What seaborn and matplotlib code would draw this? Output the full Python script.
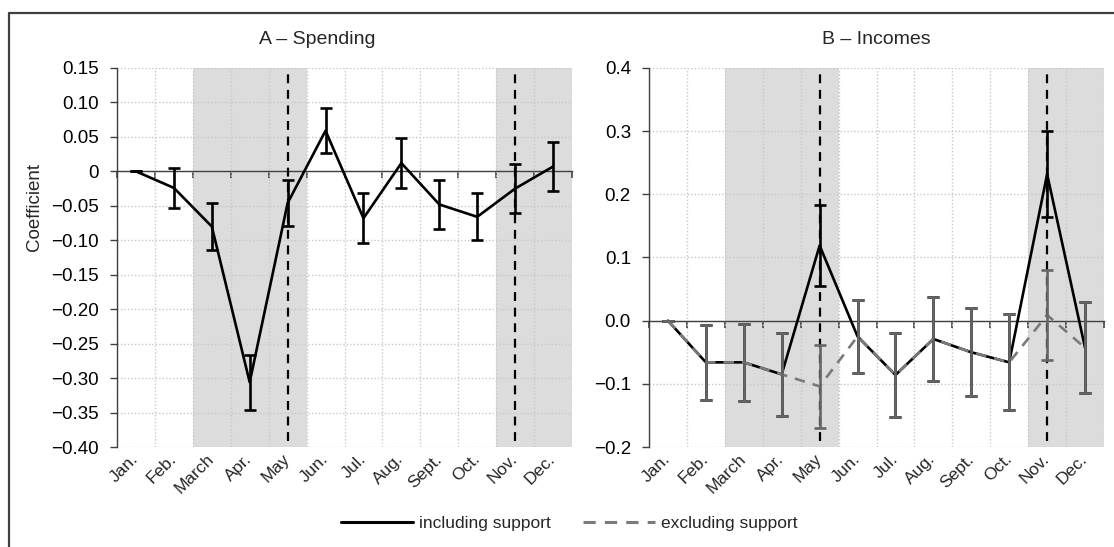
import numpy as np
import pandas as pd
import matplotlib
matplotlib.use("Agg")
import matplotlib.pyplot as plt
from matplotlib.lines import Line2D
from matplotlib.ticker import FixedLocator, FuncFormatter
import seaborn as sns

# ---- data -------------------------------------------------------------
months = ["Jan.", "Feb.", "March", "Apr.", "May", "Jun.",
          "Jul.", "Aug.", "Sept.", "Oct.", "Nov.", "Dec."]

spend_incl = [0.0, -0.024, -0.080, -0.306, -0.046, 0.059,
              -0.068, 0.012, -0.048, -0.066, -0.025, 0.007]
spend_incl_err = [0.0, 0.029, 0.034, 0.040, 0.033, 0.033,
                  0.036, 0.036, 0.035, 0.034, 0.036, 0.036]

income_incl = [0.0, -0.066, -0.066, -0.085, 0.119, -0.025,
               -0.086, -0.029, -0.050, -0.066, 0.232, -0.043]
income_incl_err = [0.0, 0.059, 0.061, 0.066, 0.064, 0.058,
                   0.066, 0.067, 0.070, 0.076, 0.068, 0.072]
income_excl = [0.0, -0.066, -0.066, -0.085, -0.104, -0.025,
               -0.086, -0.029, -0.050, -0.066, 0.009, -0.043]
income_excl_err = [0.0, 0.059, 0.061, 0.066, 0.066, 0.058,
                   0.066, 0.067, 0.070, 0.076, 0.071, 0.072]

shaded_months = [("March", "May"), ("Nov.", "Dec.")]
marked_months = ["May", "Nov."]

spend_ticks = [0.15, 0.10, 0.05, 0.0, -0.05, -0.10, -0.15, -0.20,
               -0.25, -0.30, -0.35, -0.40]
income_ticks = [0.4, 0.3, 0.2, 0.1, 0.0, -0.1, -0.2]

# ---- style ------------------------------------------------------------
sns.set_theme(style="white")
plt.rcParams["font.family"] = ["Liberation Sans", "DejaVu Sans"]
plt.rcParams["axes.unicode_minus"] = True

BLACK = "#000000"
GREY_LINE = "#7a7a7a"
GREY_BAR = "#666666"
SHADE = "#dcdcdc"
GRID = "#c8c8c8"
AXIS = "#404040"

FS_TICK = 13.5
FS_MONTH = 12.5
FS_TITLE = 14
FS_LEGEND = 12.5

W, H = 1114, 547
fig = plt.figure(figsize=(W / 100, H / 100), dpi=100)


def px_rect(x0, y0, x1, y1):
    return [x0 / W, 1 - y1 / H, (x1 - x0) / W, (y1 - y0) / H]


ax_a = fig.add_axes(px_rect(117, 68, 572, 447))
ax_b = fig.add_axes(px_rect(649, 68, 1104, 447))

xpos = np.arange(len(months)) + 0.5
idx = {m: i for i, m in enumerate(months)}


def fmt_spend(v, _):
    if abs(v) < 1e-9:
        return "0"
    return f"{v:.2f}".replace("-", "\u2212")


def fmt_income(v, _):
    if abs(v) < 1e-9:
        return "0.0"
    return f"{v:.1f}".replace("-", "\u2212")


def frame(ax, ticks, formatter, title, title_x=0.5):
    ymin, ymax = min(ticks), max(ticks)
    ax.set_xlim(0, len(months))
    ax.set_ylim(ymin, ymax)
    ax.set_facecolor("white")
    # shaded periods
    for a, b in shaded_months:
        ax.axvspan(idx[a], idx[b] + 1, color=SHADE, lw=0, zorder=0)
    # dotted grid
    for x in range(len(months) + 1):
        ax.axvline(x, color=GRID, lw=1.0, ls=(0, (1, 1.5)), zorder=1)
    for y in ticks:
        ax.axhline(y, color=GRID, lw=1.0, ls=(0, (1, 1.5)), zorder=1)
    # dashed markers
    for m in marked_months:
        ax.axvline(idx[m] + 0.5, ymin=0.015, ymax=0.99, color=BLACK,
                   lw=1.6, ls=(0, (4, 3)), zorder=3)
    # spines
    for s in ["top", "right"]:
        ax.spines[s].set_visible(False)
    ax.spines["left"].set_color(AXIS)
    ax.spines["left"].set_linewidth(1.0)
    ax.spines["bottom"].set_position(("data", 0))
    ax.spines["bottom"].set_color(AXIS)
    ax.spines["bottom"].set_linewidth(1.0)
    ax.spines["bottom"].set_zorder(2)
    ax.yaxis.set_major_locator(FixedLocator(ticks))
    ax.yaxis.set_major_formatter(FuncFormatter(formatter))
    ax.tick_params(axis="y", which="major", left=True, length=5, width=1,
                   color=AXIS, labelsize=FS_TICK, pad=8, labelcolor="black")
    ax.set_xticks(range(len(months) + 1))
    ax.tick_params(axis="x", which="major", bottom=True, length=5, width=1.2,
                   color=AXIS, labelbottom=False)
    ax.grid(False)
    # month labels on the lower edge
    sec = ax.secondary_xaxis(0)
    sec.set_xticks(xpos)
    sec.set_xticklabels(months, rotation=45, ha="right", va="center",
                        rotation_mode="anchor", fontsize=FS_MONTH)
    sec.tick_params(length=0, pad=7)
    sec.spines["bottom"].set_visible(False)
    ax.set_title(title, fontsize=FS_TITLE, pad=17, x=title_x)
    ax.set_xlabel("")


# ---- panel A ----------------------------------------------------------
frame(ax_a, spend_ticks, fmt_spend, "A \u2013 Spending", title_x=0.44)
df_a = pd.DataFrame({"x": xpos, "coef": spend_incl})
sns.lineplot(data=df_a, x="x", y="coef", ax=ax_a, color=BLACK, lw=1.9,
             zorder=5, legend=False)
ax_a.errorbar(xpos, spend_incl, yerr=spend_incl_err, fmt="none",
              ecolor=BLACK, elinewidth=1.9, capsize=4.5, capthick=1.9, zorder=6)
ax_a.set_ylabel("Coefficient", fontsize=FS_TICK)
ax_a.yaxis.set_label_coords(-0.162, 0.633)
ax_a.set_xlabel("")

# ---- panel B ----------------------------------------------------------
frame(ax_b, income_ticks, fmt_income, "B \u2013 Incomes")
df_b = pd.DataFrame({"x": np.concatenate([xpos, xpos]),
                     "coef": income_incl + income_excl,
                     "series": ["including support"] * 12 + ["excluding support"] * 12})
sns.lineplot(data=df_b[df_b.series == "including support"], x="x", y="coef",
             ax=ax_b, color=BLACK, lw=1.9, zorder=5, legend=False)
ax_b.errorbar(xpos, income_incl, yerr=income_incl_err, fmt="none",
              ecolor=BLACK, elinewidth=1.9, capsize=4.5, capthick=1.9, zorder=6)
sns.lineplot(data=df_b[df_b.series == "excluding support"], x="x", y="coef",
             ax=ax_b, color=GREY_LINE, lw=1.9, zorder=7, legend=False)
ax_b.lines[-1].set_linestyle((0, (4, 3)))
ax_b.errorbar(xpos, income_excl, yerr=income_excl_err, fmt="none",
              ecolor=GREY_BAR, elinewidth=1.9, capsize=4.5, capthick=1.9, zorder=8)
ax_b.set_ylabel("")
ax_b.set_xlabel("")

# ---- legend -----------------------------------------------------------
handles = [Line2D([], [], color=BLACK, lw=2.2),
           Line2D([], [], color=GREY_LINE, lw=2.2, ls=(0, (4, 3)))]
fig.legend(handles, ["including support", "excluding support"],
           loc="center", bbox_to_anchor=(0.511, 1 - 523 / H), ncol=2,
           frameon=False, fontsize=FS_LEGEND, handlelength=4.15, handletextpad=0.3,
           columnspacing=1.9)

# ---- outer frame ------------------------------------------------------
fig.add_artist(Line2D([8.5 / W, 8.5 / W, 1.0], [0.0, 1 - 12.5 / H, 1 - 12.5 / H],
                      transform=fig.transFigure, color=AXIS, lw=1.6))

fig.savefig("out.png", dpi=100)
